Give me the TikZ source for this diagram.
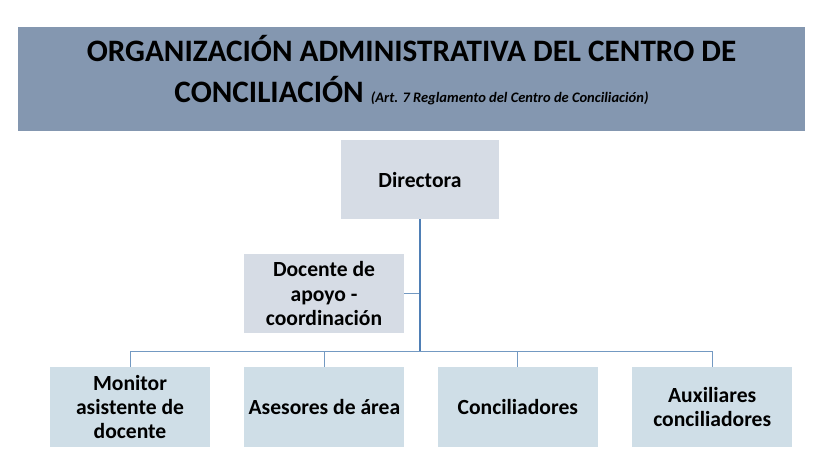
\documentclass[tikz,border=0pt]{standalone}
\usepackage{fontspec}
\setmainfont{Carlito}
\usetikzlibrary{
    positioning,
    calc}
\definecolor{titlebg}{HTML}{8497B0}
\definecolor{topbox}{HTML}{D6DCE5}
\definecolor{lowbox}{HTML}{CFDEE7}
\definecolor{mainline}{HTML}{4F7FB5}
\definecolor{thinline}{HTML}{7399C2}

\begin{document}
\begin{tikzpicture}[x=1pt,y=-1pt,
    titlebox/.style={fill=titlebg,minimum width=787pt,minimum height=104pt,inner sep=0pt},
    titletext/.style={inner sep=0pt,align=center,font=\fontsize{31.2}{41}\selectfont\bfseries},
    unitbox/.style={fill=#1,minimum width=160pt,minimum height=80pt,inner sep=1pt,
      align=center,font=\fontsize{21.6}{24.4}\selectfont\bfseries},
    link/.style={draw=thinline,line width=0.9pt}]
    \useasboundingbox (0,0) rectangle (830,452);
    % header
    \node[titlebox] (title) at (411.5,79) {};
    \node[titletext] (titletxt) at (411.5,70.5) {ORGANIZACIÓN ADMINISTRATIVA DEL CENTRO DE\\
      CONCILIACIÓN {\fontsize{14.5}{16}\selectfont\itshape (Art. 7 Reglamento del Centro de Conciliación)}};
    % upper level
    \node[unitbox=topbox,minimum width=158pt,minimum height=79pt] (dir) at (420,179.5) {Directora};
    \node[unitbox=topbox,minimum height=79pt] (doc) at (324,293.5) {Docente de\\ apoyo -\\ coordinación};
    % lower level
    \node[unitbox=lowbox] (mon) at (130,407) {Monitor\\ asistente de\\ docente};
    \node[unitbox=lowbox,right=34pt of mon] (ase) {Asesores de área};
    \node[unitbox=lowbox,right=33pt of ase] (con) {Conciliadores};
    \node[unitbox=lowbox,right=34pt of con] (aux) {Auxiliares\\ conciliadores};
    % connectors
    \coordinate (bus) at ($(dir.south)+(0,132)$);
    \draw[link] (mon.north) |- (bus) -| (aux.north);
    \foreach \b in {ase,con} {
      \draw[link] (\b.north) -- (\b.north |- bus);
    }
    \draw[link] (doc.east) -- (doc.east -| dir.south);
    \draw[mainline,line width=1.3pt] (dir.south) -- (bus);
\end{tikzpicture}
\end{document}
